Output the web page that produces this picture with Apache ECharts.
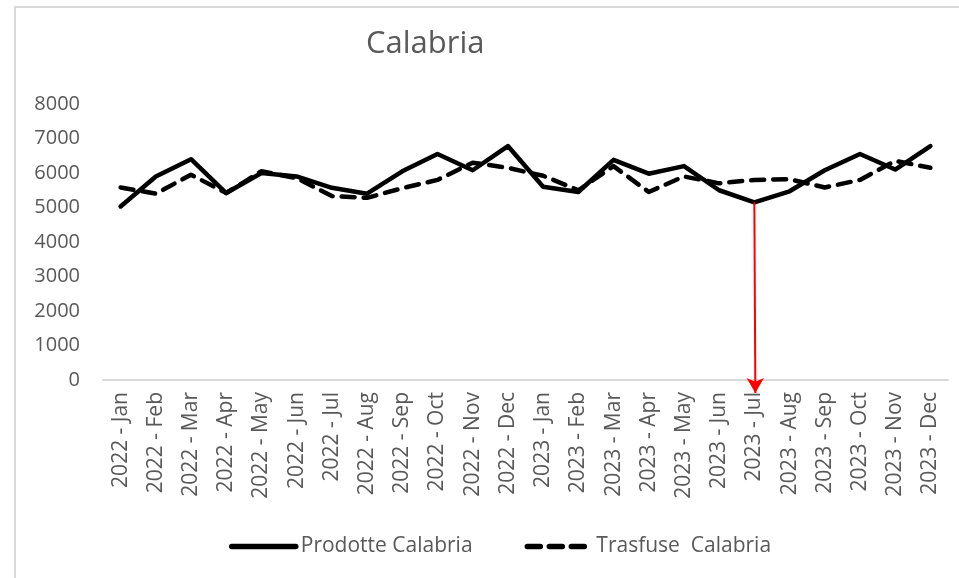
<!DOCTYPE html>
<html>
<head>
<meta charset="utf-8">
<title>Calabria</title>
<script src="https://cdn.jsdelivr.net/npm/echarts@6/dist/echarts.min.js"></script>
<style>
  html, body { margin: 0; padding: 0; background: #fff; }
  #main { width: 959px; height: 578px; }
</style>
</head>
<body>
<div id="main"></div>
<script>
const months = ['Jan', 'Feb', 'Mar', 'Apr', 'May', 'Jun', 'Jul', 'Aug', 'Sep', 'Oct', 'Nov', 'Dec']
const categories = [2022, 2023].flatMap(y => months.map(m => y + ' - ' + m))

const prodotte = [
  5030, 5900, 6400, 5420, 6000, 5900, 5570, 5400, 6050, 6550, 6080, 6780,
  5600, 5450, 6380, 5980, 6200, 5500, 5150, 5470, 6080, 6550, 6100, 6780
]
const trasfuse = [
  5580, 5400, 5950, 5420, 6050, 5850, 5330, 5280, 5560, 5800, 6300, 6150,
  5920, 5500, 6200, 5450, 5900, 5700, 5800, 5820, 5580, 5800, 6350, 6150
]

const arrowMonth = '2023 - Jul'
const arrowValue = 5150

const chart = echarts.init(document.getElementById('main'))
const font = "'Open Sans', 'Noto Sans', sans-serif"
const grey = '#595959'

const option = {
  backgroundColor: '#fff',
  textStyle: { fontFamily: font },
  animation: false,
  graphic: [
    {
      type: 'rect',
      shape: { x: 15, y: 7, width: 1000, height: 1000 },
      style: { fill: 'none', stroke: '#d9d9d9', lineWidth: 2 }
    }
  ],
  title: {
    text: 'Calabria',
    left: 361,
    top: 24,
    textStyle: { fontFamily: font, fontSize: 31, fontWeight: 'normal', color: grey }
  },
  grid: { left: 103, right: 11, top: 104, bottom: 198, containLabel: false },
  legend: {
    left: 224,
    top: 531,
    itemWidth: 64,
    itemHeight: 14,
    itemGap: 52,
    itemStyle: { opacity: 0 },
    lineStyle: { width: 5.5 },
    textStyle: { fontSize: 21, color: grey, fontFamily: font },
    data: ['Prodotte Calabria', 'Trasfuse  Calabria']
  },
  xAxis: {
    type: 'category',
    data: categories,
    boundaryGap: true,
    axisLine: { lineStyle: { color: '#d9d9d9', width: 2 } },
    axisTick: { show: false },
    axisLabel: { rotate: 90, fontSize: 21, color: grey, margin: 12, interval: 0 }
  },
  yAxis: {
    type: 'value',
    min: 0,
    max: 8000,
    interval: 1000,
    splitLine: { show: false },
    axisLine: { show: false },
    axisTick: { show: false },
    axisLabel: { fontSize: 20, color: grey, margin: 23, formatter: v => String(v) }
  },
  series: [
    {
      name: 'Prodotte Calabria',
      type: 'line',
      data: prodotte,
      symbol: 'none',
      color: '#000',
      lineStyle: { color: '#000', width: 4.5, cap: 'round', join: 'round' },
      z: 3
    },
    {
      name: 'Trasfuse  Calabria',
      type: 'line',
      data: trasfuse,
      symbol: 'none',
      color: '#000',
      lineStyle: { color: '#000', width: 4.5, type: [13, 9], cap: 'round', join: 'round' },
      z: 2
    }
  ]
}

chart.setOption(option)

// red arrow from the July 2023 low point down past the x axis
const arrowStart = chart.convertToPixel({ gridIndex: 0 }, [arrowMonth, arrowValue])
const arrowBase = chart.convertToPixel({ gridIndex: 0 }, [arrowMonth, 0])
chart.setOption({
  series: [{
    name: 'Prodotte Calabria',
    markLine: {
      silent: true,
      symbol: ['none', 'arrow'],
      symbolSize: [13, 15],
      label: { show: false },
      lineStyle: { color: '#ff0000', width: 2, type: 'solid' },
      data: [[{ x: arrowStart[0], y: arrowStart[1] }, { x: arrowBase[0] + 1, y: arrowBase[1] + 13 }]]
    }
  }]
})
</script>
</body>
</html>
